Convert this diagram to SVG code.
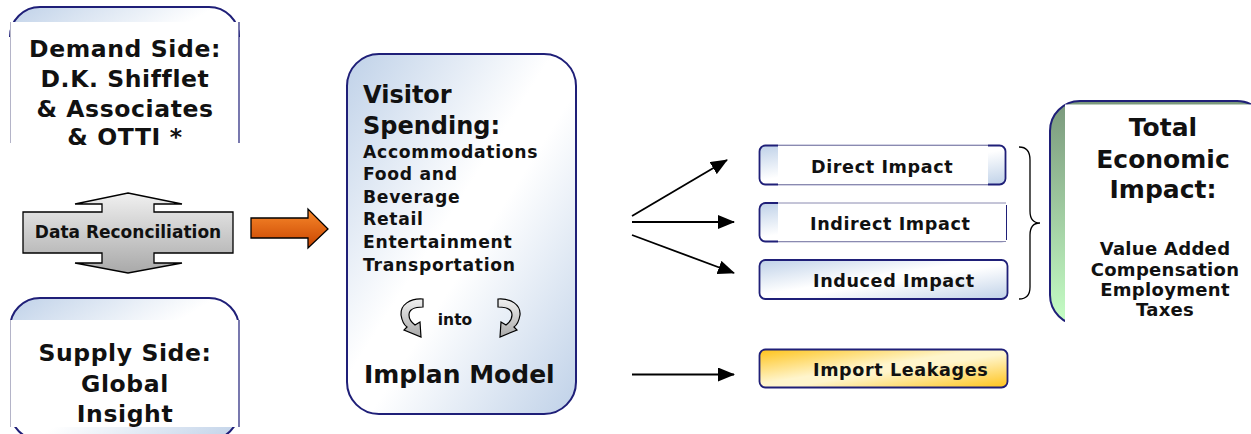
<svg xmlns="http://www.w3.org/2000/svg" width="1251" height="434" viewBox="0 0 1251 434">
<style>
text{font-family:"DejaVu Sans",Verdana,"Liberation Sans",sans-serif;font-weight:bold;fill:#111}
.navy{stroke:#1f1f78;stroke-width:2;fill:none}
.t22{font-size:23.5px;letter-spacing:0.6px;text-anchor:middle}
.t24{font-size:24px}
.t16{font-size:17.2px;letter-spacing:0.7px}
.imp{font-size:17.6px;letter-spacing:0.6px}
.big{font-size:25px;text-anchor:middle}
.sub{font-size:18px;letter-spacing:0.3px;text-anchor:middle}
.conn{stroke:#000;stroke-width:1.8;fill:none;marker-end:url(#ah)}
</style>
<defs>
<linearGradient id="gBlue" x1="0" y1="0" x2="1" y2="1">
<stop offset="0" stop-color="#bfd1e8"/><stop offset="0.45" stop-color="#fff"/><stop offset="0.55" stop-color="#fff"/><stop offset="1" stop-color="#bfd1e8"/>
</linearGradient>
<linearGradient id="gGold" x1="0" y1="0" x2="1" y2="1">
<stop offset="0" stop-color="#ffc31a"/><stop offset="0.45" stop-color="#fff5cc"/><stop offset="0.55" stop-color="#fff5cc"/><stop offset="1" stop-color="#ffc31a"/>
</linearGradient>
<linearGradient id="gGreen" x1="0" y1="0" x2="0" y2="1">
<stop offset="0" stop-color="#7a987c"/><stop offset="1" stop-color="#c6ffc6"/>
</linearGradient>
<linearGradient id="gGray" x1="0" y1="0" x2="0" y2="1">
<stop offset="0" stop-color="#f0f0f0"/><stop offset="1" stop-color="#a9a9a9"/>
</linearGradient>
<linearGradient id="gOrange" x1="0" y1="0" x2="0" y2="1">
<stop offset="0" stop-color="#f98a2c"/><stop offset="1" stop-color="#c84400"/>
</linearGradient>
<marker id="ah" markerUnits="userSpaceOnUse" markerWidth="17" markerHeight="14" refX="16" refY="7" orient="auto">
<path d="M0,0 L17,7 L0,14 Z" fill="#000"/>
</marker>
<path id="curl" d="M423,299 C410,298 400,305 401,315 C402,321 404,325 407,327 L404,330 L421,337 L420,322 L415,325 C411,322 409,319 409,315 C409,310 414,307 423,307 Z" fill="url(#gGray)" stroke="#000" stroke-width="1.2"/>
</defs>

<g id="demand">
<path d="M10,143 L10,37 A30,30 0 0 1 40,7 L209,7 A30,30 0 0 1 239,37 L239,143 Z" fill="url(#gBlue)"/>
<path d="M10,37 A30,30 0 0 1 40,7 L209,7 A30,30 0 0 1 239,37" class="navy"/>
<rect x="10" y="22" width="229" height="121.5" fill="#fff"/>
<line x1="10.5" y1="22" x2="10.5" y2="143" stroke="#b4b4c8" stroke-width="1"/>
<line x1="239" y1="22" x2="239" y2="143" stroke="#1f1f78" stroke-width="1.2"/>
<text class="t22" x="125" y="57">Demand Side:</text>
<text class="t22" x="125" y="87">D.K. Shifflet</text>
<text class="t22" x="125" y="117">&amp; Associates</text>
<text class="t22" x="125" y="145">&amp; OTTI *</text>
</g>

<g id="reconciliation">
<path d="M128,193 L182,204 L154,204 L154,212 L233,212 L233,253 L154,253 L154,263 L182,263 L128,273 L75,263 L102,263 L102,253 L23,253 L23,212 L102,212 L102,204 L75,204 Z" fill="url(#gGray)" stroke="#000" stroke-width="1.3"/>
<text x="128" y="238" style="font-size:17px;text-anchor:middle">Data Reconciliation</text>
</g>

<g id="supply">
<rect x="10" y="298" width="229" height="142" rx="30" class="navy" style="fill:url(#gBlue)"/>
<rect x="9" y="320" width="232" height="107" fill="#fff"/>
<line x1="10.5" y1="320" x2="10.5" y2="427" stroke="#b4b4c8" stroke-width="1"/>
<line x1="239" y1="320" x2="239" y2="427" stroke="#1f1f78" stroke-width="1.2"/>
<text class="t22" x="125" y="361">Supply Side:</text>
<text class="t22" x="125" y="391.5">Global</text>
<text class="t22" x="125" y="422">Insight</text>
</g>

<g id="orange-arrow">
<path d="M251,218 L308,218 L308,209 L328,229 L308,248 L308,238 L251,238 Z" fill="url(#gOrange)" stroke="#000" stroke-width="1.3"/>
</g>

<g id="visitor">
<rect x="347" y="54" width="229" height="360" rx="32" class="navy" style="fill:url(#gBlue)"/>
<text class="t24" x="363" y="103">Visitor</text>
<text class="t24" x="363" y="134">Spending:</text>
<text class="t16" x="363" y="157.5">Accommodations</text>
<text class="t16" x="363" y="180">Food and</text>
<text class="t16" x="363" y="202.5">Beverage</text>
<text class="t16" x="363" y="225">Retail</text>
<text class="t16" x="363" y="248">Entertainment</text>
<text class="t16" x="363" y="270.5">Transportation</text>
<use href="#curl"/>
<use href="#curl" transform="matrix(-1,0,0,1,921,0)"/>
<text x="455" y="325" style="font-size:15.5px;text-anchor:middle">into</text>
<text x="364" y="383" style="font-size:25px">Implan Model</text>
</g>

<g id="connectors">
<line class="conn" x1="632" y1="216" x2="727" y2="160"/>
<line class="conn" x1="632" y1="222" x2="734" y2="222"/>
<line class="conn" x1="632" y1="235" x2="734" y2="273"/>
<line class="conn" x1="632" y1="374.5" x2="734" y2="374.5"/>
<path d="M1019,147 C1026,147 1030,151 1030,160 L1030,211 C1030,219 1034,223 1040,223 C1034,223 1030,227 1030,235 L1030,287 C1030,295 1026,299 1019,299" fill="none" stroke="#000" stroke-width="1.3"/>
</g>

<g id="direct">
<rect x="759.5" y="145.5" width="246" height="39" rx="6" fill="url(#gBlue)" stroke="#1f1f78" stroke-width="1.8"/>
<rect x="778" y="144.4" width="210" height="41.2" fill="#fff"/>
<line x1="778" y1="145.5" x2="988" y2="145.5" stroke="#6c6c9c" stroke-width="0.8"/>
<line x1="778" y1="184.5" x2="988" y2="184.5" stroke="#6c6c9c" stroke-width="0.8"/>
<text class="imp" x="811" y="172.5">Direct Impact</text>
</g>

<g id="indirect">
<rect x="759.5" y="203" width="248" height="38.5" rx="6" fill="url(#gBlue)" stroke="#1f1f78" stroke-width="1.8"/>
<rect x="778" y="201.9" width="231" height="40.8" fill="#fff"/>
<line x1="778" y1="203" x2="1006" y2="203" stroke="#6c6c9c" stroke-width="0.8"/>
<line x1="778" y1="241.5" x2="1006" y2="241.5" stroke="#6c6c9c" stroke-width="0.8"/>
<line x1="1006.5" y1="205" x2="1006.5" y2="240" stroke="#1f1f78" stroke-width="1"/>
<text class="imp" x="810" y="229.5">Indirect Impact</text>
</g>

<g id="induced">
<rect x="759.5" y="260" width="248" height="39" rx="6" fill="url(#gBlue)" stroke="#1f1f78" stroke-width="1.8"/>
<text class="imp" x="813" y="286.5">Induced Impact</text>
</g>

<g id="import">
<rect x="759.5" y="349.5" width="248" height="38" rx="6" fill="url(#gGold)" stroke="#1f1f78" stroke-width="1.8"/>
<text class="imp" x="813" y="376">Import Leakages</text>
</g>

<g id="total">
<rect x="1050" y="101" width="217" height="224" rx="30" fill="url(#gGreen)" stroke="#1f1f78" stroke-width="2"/>
<rect x="1065" y="104.5" width="190" height="228" fill="#fff"/>
<text class="big" x="1163" y="136">Total</text>
<text class="big" x="1163" y="167.5">Economic</text>
<text class="big" x="1163" y="198">Impact:</text>
<text class="sub" x="1165" y="255">Value Added</text>
<text class="sub" x="1165" y="275.5">Compensation</text>
<text class="sub" x="1165" y="295.5">Employment</text>
<text class="sub" x="1165" y="315.5">Taxes</text>
</g>
</svg>
